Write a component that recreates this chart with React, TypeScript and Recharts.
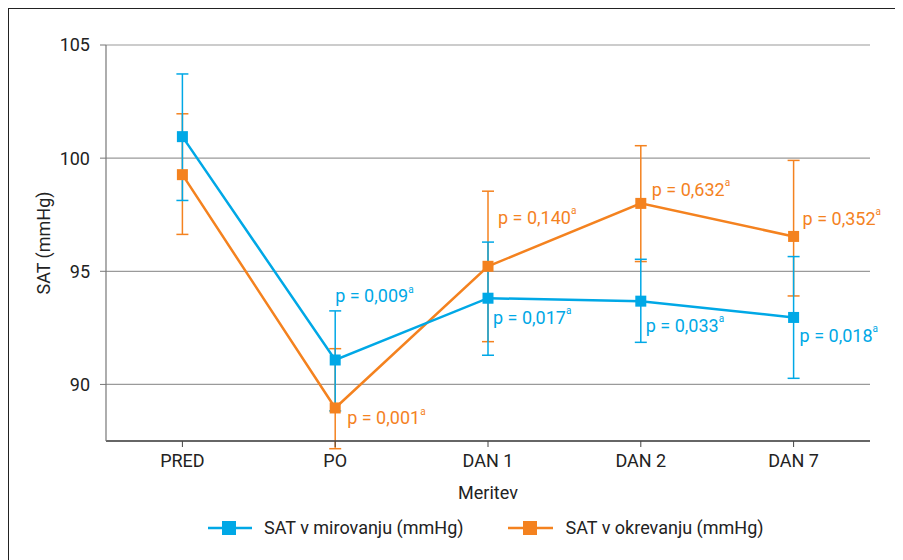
import React from 'react';
import { LineChart, Line, XAxis, YAxis, CartesianGrid, ErrorBar, LabelList, Label } from 'recharts';

const categories = ['PRED', 'PO', 'DAN 1', 'DAN 2', 'DAN 7'];
const satRest = [100.95, 91.08, 93.81, 93.68, 92.96];
const satRecovery = [99.27, 88.96, 95.22, 98.0, 96.54];
const satRestErrLow = [2.82, 2.25, 2.52, 1.82, 2.69];
const satRestErrHigh = [2.77, 2.17, 2.48, 1.85, 2.69];
const satRecErrLow = [2.64, 1.8, 3.33, 2.57, 2.63];
const satRecErrHigh = [2.69, 2.62, 3.32, 2.55, 3.36];
const pRest = ['', '0,009', '0,017', '0,033', '0,018'];
const pRecovery = ['', '0,001', '0,140', '0,632', '0,352'];
const yTicks = [90, 95, 100, 105];

const BLUE = '#00A8E6';
const ORANGE = '#F4821F';
const FONT = 'Roboto, "DejaVu Sans", sans-serif';

// label placement relative to the point (style only)
const restLabelOffsets: [number, number][] = [[0, 0], [0, -64], [5, 19], [5, 24], [6, 18]];
const recLabelOffsets: [number, number][] = [[0, 0], [12, 10], [10, -49], [11, -14], [9, -18]];

const data = categories.map((c, i) => ({
  cat: c,
  rest: satRest[i],
  rec: satRecovery[i],
  restErr: [satRestErrLow[i], satRestErrHigh[i]],
  recErr: [satRecErrLow[i], satRecErrHigh[i]],
  pRest: pRest[i],
  pRec: pRecovery[i],
}));

const squareDot = (color: string) => (props: any) => {
  const { cx, cy, index } = props;
  if (cx == null || cy == null) return <g key={index} />;
  return <rect key={index} x={cx - 5.5} y={cy - 5.5} width={11} height={11} fill={color} />;
};

const pLabel = (color: string, offsets: [number, number][]) => (props: any) => {
  const { x, y, value, index } = props;
  if (!value) return null;
  const [dx, dy] = offsets[index];
  return (
    <text x={x + dx} y={y + dy} fill={color} fontSize={18} fontFamily={FONT} dominantBaseline="central">
      {`p = ${value}`}
      <tspan fontSize={10} dy={-7}>a</tspan>
    </text>
  );
};

const LegendContent = () => (
  <div style={{ display: 'flex', alignItems: 'center', fontFamily: FONT, fontSize: 18, color: '#222', whiteSpace: 'nowrap' }}>
    <div style={{ display: 'flex', alignItems: 'center' }}>
      <svg width={44} height={16}>
        <line x1={0} y1={8} x2={44} y2={8} stroke={BLUE} strokeWidth={2.5} />
        <rect x={14} y={1} width={14} height={14} fill={BLUE} />
      </svg>
      <span style={{ marginLeft: 12 }}>SAT v mirovanju (mmHg)</span>
    </div>
    <div style={{ display: 'flex', alignItems: 'center', marginLeft: 44 }}>
      <svg width={45} height={16}>
        <line x1={0} y1={8} x2={45} y2={8} stroke={ORANGE} strokeWidth={2.5} />
        <rect x={15} y={1} width={14} height={14} fill={ORANGE} />
      </svg>
      <span style={{ marginLeft: 13 }}>SAT v okrevanju (mmHg)</span>
    </div>
  </div>
);

export default function App() {
  return (
    <div style={{ position: 'relative', width: 895, height: 552, fontFamily: FONT }}>
      <div
        style={{
          position: 'absolute',
          left: -1,
          top: -1,
          width: 900,
          height: 553,
          borderTop: '2px solid #222',
          borderLeft: '2px solid #222',
          boxSizing: 'border-box',
          pointerEvents: 'none',
        }}
      />
      <LineChart width={895} height={552} data={data} margin={{ top: 37, right: 33, bottom: 89, left: 48 }}>
        <CartesianGrid vertical={false} stroke="#9a9a9a" strokeWidth={1.2} />
        <XAxis
          dataKey="cat"
          scale="band"
          height={30}
          tickSize={6}
          tickMargin={7}
          tick={{ fill: '#222', fontSize: 18, fontFamily: FONT }}
          axisLine={{ stroke: '#444', strokeWidth: 1.5 }}
          tickLine={{ stroke: '#444' }}
        >
          <Label
            content={(p: any) => {
              const vb = p.viewBox;
              return (
                <text x={vb.x + vb.width / 2} y={484} textAnchor="middle" dominantBaseline="central" fontSize={18} fill="#222" fontFamily={FONT}>
                  Meritev
                </text>
              );
            }}
          />
        </XAxis>
        <YAxis
          width={50}
          domain={[87.5, 105]}
          ticks={yTicks}
          allowDataOverflow
          tickSize={6}
          tickMargin={10}
          tick={{ fill: '#222', fontSize: 18, fontFamily: FONT }}
          axisLine={{ stroke: '#777', strokeWidth: 1.2 }}
          tickLine={{ stroke: '#777' }}
        >
          <Label
            content={(p: any) => {
              const vb = p.viewBox;
              const cy = vb.y + vb.height / 2;
              return (
                <text x={35} y={cy} transform={`rotate(-90 35 ${cy})`} textAnchor="middle" dominantBaseline="central" fontSize={18} fill="#222" fontFamily={FONT}>
                  SAT (mmHg)
                </text>
              );
            }}
          />
        </YAxis>
        <Line dataKey="rec" stroke={ORANGE} strokeWidth={2.5} dot={false} isAnimationActive={false} legendType="none">
          <ErrorBar dataKey="recErr" width={6} stroke={ORANGE} strokeWidth={1.5} direction="y" />
        </Line>
        <Line dataKey="rest" stroke={BLUE} strokeWidth={2.5} dot={false} isAnimationActive={false} legendType="none">
          <ErrorBar dataKey="restErr" width={6} stroke={BLUE} strokeWidth={1.5} direction="y" />
        </Line>
        <Line dataKey="rec" stroke="none" dot={squareDot(ORANGE)} activeDot={false} isAnimationActive={false} legendType="none">
          <LabelList dataKey="pRec" content={pLabel(ORANGE, recLabelOffsets)} />
        </Line>
        <Line dataKey="rest" stroke="none" dot={squareDot(BLUE)} activeDot={false} isAnimationActive={false} legendType="none">
          <LabelList dataKey="pRest" content={pLabel(BLUE, restLabelOffsets)} />
        </Line>
      </LineChart>
      <div style={{ position: 'absolute', top: 509, left: 200 }}>
        <LegendContent />
      </div>
    </div>
  );
}
